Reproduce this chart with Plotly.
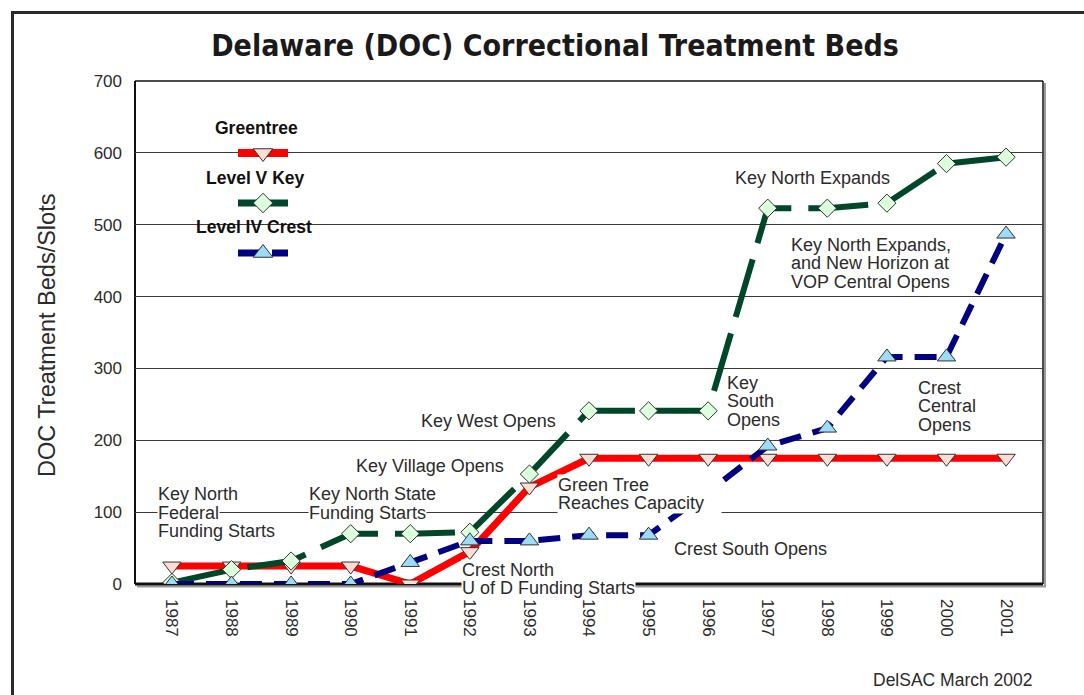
import plotly.graph_objects as go

# ---------------- data ----------------
years = [1987, 1988, 1989, 1990, 1991, 1992, 1993, 1994, 1995, 1996, 1997, 1998, 1999, 2000, 2001]
year_labels = [str(y) for y in years]
greentree = [25, 25, 25, 25, 0, 45, 135, 175, 175, 175, 175, 175, 175, 175, 175]
level_v_key = [2, 20, 32, 70, 70, 72, 153, 241, 241, 241, 523, 523, 530, 585, 594]
level_iv_crest = [0, 0, 0, 0, 30, 60, 60, 68, 68, 128, 192, 217, 316, 316, 487]

series_names = ["Greentree", "Level V Key", "Level IV Crest"]
series_values = [greentree, level_v_key, level_iv_crest]
line_colors = ["#FF0000", "#00472A", "#000080"]
line_widths = [7, 6, 6]
line_dashes = ["solid", "60px,17px", "22px,12px"]
marker_symbols = ["triangle-down", "diamond", "triangle-up"]
marker_sizes = [16, 14, 16]
marker_fills = ["#FFDCD4", "#DCFFDC", "#9CDCF8"]

y_ticks = [0, 100, 200, 300, 400, 500, 600, 700]

# annotation texts (x = left edge in years, y = first line centre in beds, text-box width px or None)
notes = [
    (1986.75, 125, ["Key North", "Federal", "Funding Starts"], None),
    (1989.28, 125, ["Key North State", "Funding Starts"], None),
    (1990.07, 164, ["Key Village Opens"], None),
    (1991.16, 227, ["Key West Opens"], None),
    (1993.46, 138, ["Green Tree", "Reaches Capacity"], 163),
    (1991.85, 19.5, ["Crest North", "U of D Funding Starts"], None),
    (1995.41, 48.7, ["Crest South Opens"], None),
    (1996.30, 280, ["Key", "South", "Opens"], None),
    (1996.43, 565, ["Key North Expands"], None),
    (1997.37, 472, ["Key North Expands,", "and New Horizon at", "VOP Central Opens"], None),
    (1999.51, 273, ["Crest", "Central", "Opens"], None),
]

# ---------------- layout constants ----------------
W, H = 1084, 695
L, R, T, B = 135, 1043, 81, 584
PW, PH = R - L, B - T


def px_x(px):
    return (px - L) / PW


def px_y(py):
    return (B - py) / PH


TEXT_FONT = "Arial, Liberation Sans, Helvetica, sans-serif"
TEXT_COLOR = "#2b2b2b"

fig = go.Figure()

for name, vals, lc, lw, dash, sym, ms, mf in zip(series_names, series_values, line_colors,
                                                  line_widths, line_dashes, marker_symbols,
                                                  marker_sizes, marker_fills):
    fig.add_trace(go.Scatter(
        x=years, y=vals, name=name, mode="lines+markers",
        line=dict(color=lc, width=lw, dash=dash),
        marker=dict(symbol=sym, size=ms, color=mf, line=dict(color="#333333", width=1)),
        showlegend=False, hoverinfo="x+y+name",
    ))

# ---------------- custom legend (overlay axes in plot fractions) ----------------
legend_text_y = [128, 178, 227]
legend_text_x = [256, 255, 254]
legend_line_y = [153, 203, 253]
legend_line_x0, legend_line_x1, legend_marker_x = 238, 288, 263
legend_line_w = [8, 7, 7]
legend_dash = ["solid", "solid", "22px,12px"]
for i in range(3):
    fig.add_trace(go.Scatter(
        x=[px_x(legend_line_x0), px_x(legend_line_x1)],
        y=[px_y(legend_line_y[i])] * 2,
        xaxis="x2", yaxis="y2", mode="lines",
        line=dict(color=line_colors[i], width=legend_line_w[i], dash=legend_dash[i]),
        showlegend=False, hoverinfo="skip",
    ))
    fig.add_trace(go.Scatter(
        x=[px_x(legend_marker_x)], y=[px_y(legend_line_y[i])],
        xaxis="x2", yaxis="y2", mode="markers",
        marker=dict(symbol=marker_symbols[i], size=marker_sizes[i] + 1, color=marker_fills[i],
                    line=dict(color="#333333", width=1)),
        showlegend=False, hoverinfo="skip",
    ))

annotations = []
for i in range(3):
    annotations.append(dict(
        x=px_x(legend_text_x[i]), y=px_y(legend_text_y[i]), xref="paper", yref="paper",
        text="<b>" + series_names[i] + "</b>", showarrow=False,
        xanchor="center", yanchor="middle",
        font=dict(family=TEXT_FONT, size=17.5, color="#111111"),
    ))

LINE_STEP = 18.5
NOTE_SIZE = 18
for x0, y0, lines, box_w in notes:
    # bottom line first so every upper line (and its descenders) is drawn on top
    for j in reversed(range(len(lines))):
        ann = dict(
            x=x0, y=y0, xref="x", yref="y", text=lines[j], showarrow=False,
            xanchor="left", yanchor="middle", yshift=-LINE_STEP * j, align="left",
            bgcolor="white", borderpad=0,
            font=dict(family=TEXT_FONT, size=NOTE_SIZE, color=TEXT_COLOR),
        )
        if box_w:
            ann["width"] = box_w
        annotations.append(ann)

# y-axis title
annotations.append(dict(
    x=px_x(47), y=px_y(336), xref="paper", yref="paper",
    text="DOC Treatment Beds/Slots", textangle=-90, showarrow=False,
    xanchor="center", yanchor="middle",
    font=dict(family=TEXT_FONT, size=23.5, color=TEXT_COLOR),
))
# source
annotations.append(dict(
    x=px_x(1035), y=px_y(680), xref="paper", yref="paper",
    text="DelSAC March 2002", showarrow=False,
    xanchor="right", yanchor="middle",
    font=dict(family=TEXT_FONT, size=17.5, color=TEXT_COLOR),
))

# ---------------- frame & box shapes ----------------
shapes = []
fx, fy = px_x(12.5), px_y(12.5)
shapes.append(dict(type="line", xref="paper", yref="paper", x0=fx, x1=fx, y0=fy + 0.003, y1=px_y(H + 5),
                   line=dict(color="#2a2a2a", width=3), layer="above"))
shapes.append(dict(type="line", xref="paper", yref="paper", x0=fx, x1=px_x(W + 5), y0=fy, y1=fy,
                   line=dict(color="#2a2a2a", width=3), layer="above"))
# plot box with shadow
shapes.append(dict(type="line", xref="paper", yref="paper", x0=px_x(R + 2), x1=px_x(R + 2),
                   y0=px_y(T + 2), y1=px_y(B + 3), line=dict(color="#9a9a9a", width=2), layer="below"))
shapes.append(dict(type="line", xref="paper", yref="paper", x0=px_x(L + 2), x1=px_x(R + 3),
                   y0=px_y(B + 2.5), y1=px_y(B + 2.5), line=dict(color="#9a9a9a", width=2), layer="below"))
shapes.append(dict(type="line", xref="paper", yref="paper", x0=0, x1=1, y0=1, y1=1,
                   line=dict(color="#111111", width=1.5), layer="below"))
shapes.append(dict(type="line", xref="paper", yref="paper", x0=1, x1=1, y0=0, y1=1,
                   line=dict(color="#111111", width=1.5), layer="below"))
shapes.append(dict(type="line", xref="paper", yref="paper", x0=0, x1=0, y0=0, y1=1,
                   line=dict(color="#111111", width=2), layer="below"))
shapes.append(dict(type="line", xref="paper", yref="paper", x0=0, x1=1, y0=0, y1=0,
                   line=dict(color="#111111", width=3), layer="below"))

x_pad = 0.62
fig.update_layout(
    width=W, height=H,
    margin=dict(l=L, r=W - R, t=T, b=H - B, pad=0),
    paper_bgcolor="white", plot_bgcolor="rgba(0,0,0,0)",
    title=dict(text="<b>Delaware (DOC) Correctional Treatment Beds</b>",
               x=555 / W, xanchor="center", xref="container",
               y=1 - 45 / H, yanchor="middle", yref="container",
               font=dict(family="Liberation Sans Narrow, DejaVu Sans Condensed, Arial Narrow, sans-serif",
                         size=30, color="#1a1a1a")),
    xaxis=dict(range=[years[0] - x_pad, years[-1] + x_pad], tickvals=years, ticktext=year_labels,
               tickangle=90, showgrid=False, zeroline=False, showline=False, ticks="",
               ticklabelstandoff=14,
               tickfont=dict(family=TEXT_FONT, size=17, color=TEXT_COLOR)),
    yaxis=dict(range=[0, 700], tickvals=y_ticks, showgrid=True, gridcolor="#3a3a3a", gridwidth=1,
               zeroline=False, showline=False, ticks="", ticklabelstandoff=12,
               tickfont=dict(family=TEXT_FONT, size=17, color=TEXT_COLOR)),
    xaxis2=dict(overlaying="x", range=[0, 1], visible=False, fixedrange=True),
    yaxis2=dict(overlaying="y", range=[0, 1], visible=False, fixedrange=True),
    annotations=annotations, shapes=shapes, showlegend=False,
)

fig.write_html("out.html", config={"displayModeBar": False},
               post_script="document.body.style.margin='0';document.body.style.overflow='hidden';")
